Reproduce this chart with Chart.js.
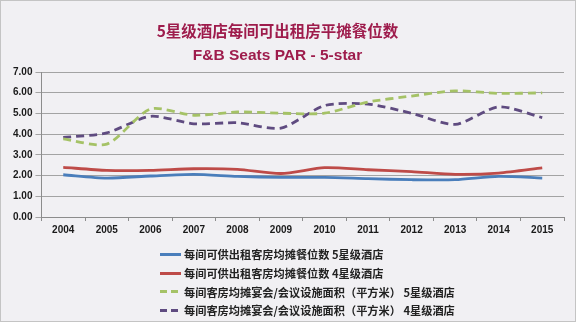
<!DOCTYPE html>
<html>
<head>
<meta charset="utf-8">
<script src="https://cdn.jsdelivr.net/npm/chart.js@4/dist/chart.umd.min.js"></script>
<style>
  html, body { margin: 0; padding: 0; }
  body { width: 576px; height: 322px; background: #f1f0f3; position: relative; overflow: hidden; }
  #frame { position: absolute; left: 0; top: 0; width: 574px; height: 320px; border: 1px solid #c4c4c4; pointer-events: none; }
  #wrap { position: absolute; left: 0; top: 0; width: 576px; height: 322px; }
  .ttl { position: absolute; left: 0; width: 555px; text-align: center; color: #9e1c4c; font-weight: bold; white-space: nowrap; line-height: 20px; }
  #t1 { top: 20px; font-family: "Noto Sans CJK SC", sans-serif; font-size: 15.5px; }
  #t2 { top: 45px; font-family: "Liberation Sans", Arial, sans-serif; font-size: 15.5px; }
  #legend { position: absolute; left: 160px; top: 245px; font-family: "Noto Sans CJK SC", sans-serif; font-weight: bold; font-size: 11.2px; color: #222; }
  .row { height: 18.7px; display: flex; align-items: center; white-space: pre; }
  .sw { width: 21px; height: 3px; margin-right: 3px; }
</style>
</head>
<body>
<div id="wrap"><canvas id="c" width="576" height="322"></canvas></div>
<div class="ttl" id="t1">5星级酒店每间可出租房平摊餐位数</div>
<div class="ttl" id="t2">F&amp;B Seats PAR - 5-star</div>
<div id="legend"></div>
<div id="frame"></div>
<script>
// Years on the category axis
const years = ['2004','2005','2006','2007','2008','2009','2010','2011','2012','2013','2014','2015'];

// F&B seats per available room
const seats5Star = [2.04, 1.88, 1.98, 2.06, 1.96, 1.91, 1.91, 1.85, 1.80, 1.80, 1.96, 1.88];
const seats4Star = [2.40, 2.25, 2.25, 2.33, 2.30, 2.10, 2.38, 2.28, 2.19, 2.06, 2.12, 2.37];

// Banquet / meeting space per room (square metres)
const space5Star = [3.77, 3.52, 5.21, 4.91, 5.07, 5.01, 5.01, 5.55, 5.84, 6.09, 5.97, 5.99];
const space4Star = [3.84, 4.06, 4.86, 4.50, 4.55, 4.29, 5.38, 5.45, 5.01, 4.47, 5.32, 4.80];

// Value-axis tick values
const yTicks = [0, 1, 2, 3, 4, 5, 6, 7];

const seriesNames = [
  '每间可供出租客房均摊餐位数 5星级酒店',
  '每间可供出租客房均摊餐位数 4星级酒店',
  '每间客房均摊宴会/会议设施面积（平方米） 5星级酒店',
  '每间客房均摊宴会/会议设施面积（平方米） 4星级酒店'
];
const seriesColors = ['#4a7ebb', '#be4b48', '#a5c266', '#5f4b80'];
const seriesDashed = [false, false, true, true];
const seriesData = [seats5Star, seats4Star, space5Star, space4Star];

const datasets = seriesData.map((d, i) => ({
  label: seriesNames[i],
  data: d,
  borderColor: seriesColors[i],
  backgroundColor: seriesColors[i],
  borderWidth: 2.8,
  borderDash: seriesDashed[i] ? [8, 5] : [],
  pointRadius: 0,
  tension: 0.25,
  fill: false
}));

const tickFont = { family: '"Liberation Sans", Arial, sans-serif', size: 10, weight: 'bold' };

new Chart(document.getElementById('c'), {
  type: 'line',
  data: { labels: years, datasets },
  options: {
    responsive: false,
    animation: false,
    layout: { padding: { left: 10, right: 12, top: 72, bottom: 83 } },
    plugins: {
      legend: { display: false },
      tooltip: { enabled: false }
    },
    scales: {
      x: {
        offset: true,
        grid: { offset: true, drawOnChartArea: false, drawTicks: true, tickLength: 4, color: '#8c8c8c' },
        border: { display: true, color: '#8c8c8c' },
        ticks: { color: '#1a1a1a', font: tickFont, padding: 3, maxRotation: 0 }
      },
      y: {
        min: 0,
        max: 7,
        afterBuildTicks: axis => { axis.ticks = yTicks.map(v => ({ value: v })); },
        grid: { color: '#a3a3a3', lineWidth: 1, tickLength: 6 },
        border: { display: true, color: '#8c8c8c' },
        ticks: { color: '#1a1a1a', font: tickFont, padding: 3, callback: v => Number(v).toFixed(2) }
      }
    }
  }
});

// Legend rows: line sample followed by series name
const legend = document.getElementById('legend');
seriesNames.forEach((name, i) => {
  const row = document.createElement('div');
  row.className = 'row';
  const sw = document.createElement('div');
  sw.className = 'sw';
  sw.style.background = seriesDashed[i]
    ? `repeating-linear-gradient(to right, ${seriesColors[i]} 0 7px, transparent 7px 11px)`
    : seriesColors[i];
  const tx = document.createElement('span');
  tx.textContent = name;
  row.appendChild(sw);
  row.appendChild(tx);
  legend.appendChild(row);
});
</script>
</body>
</html>
